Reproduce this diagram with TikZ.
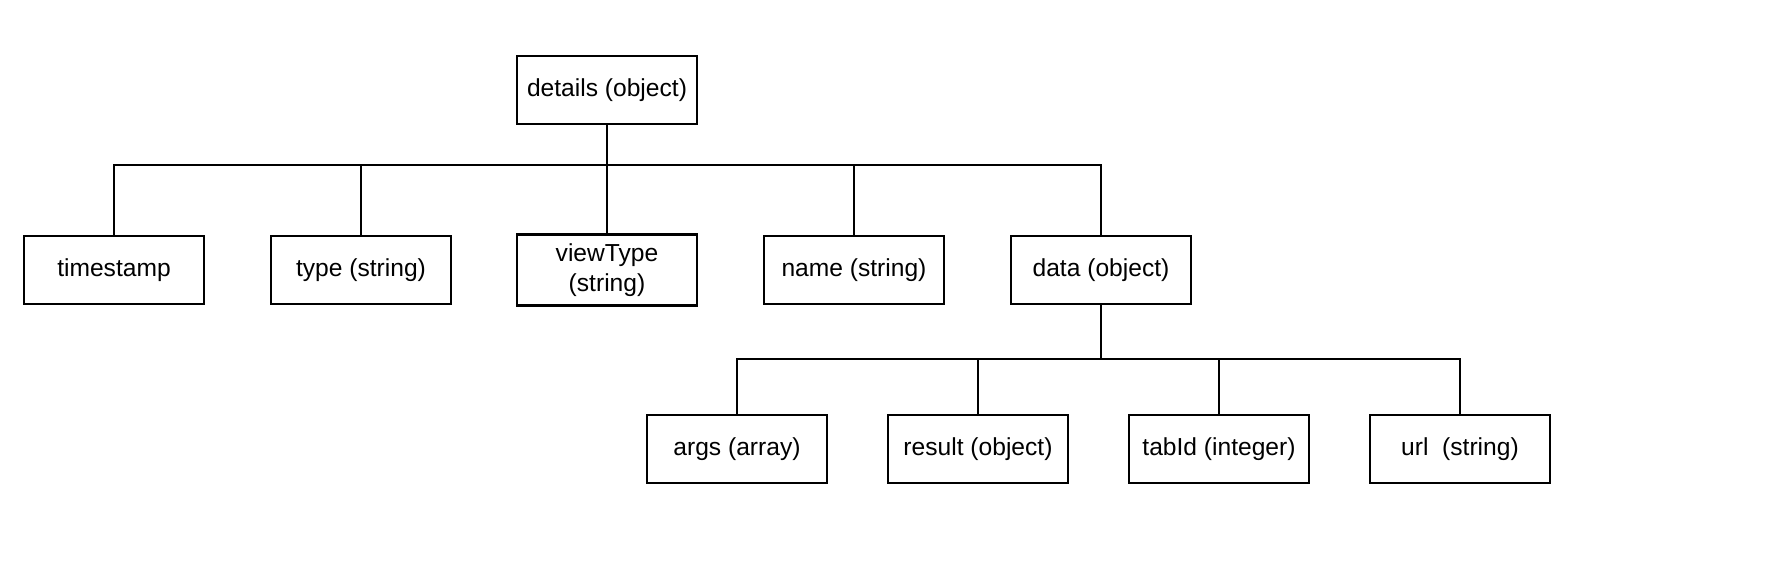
\documentclass[tikz,border=0pt]{standalone}
\usepackage{fontspec}
\setmainfont{Liberation Sans}
\usepackage{tikz}

\tikzset{
  field/.style={draw, line width=1.1pt, minimum width=90pt, minimum height=34pt,
    inner sep=1pt, align=center, font=\fontsize{12.3}{15}\selectfont},
  link/.style={line width=1pt},
  bus/.style={line width=0.8pt}
}

\begin{document}
\begin{tikzpicture}[x=0.5pt,y=-0.5pt]
%set diagram size to 1790 x 574
\useasboundingbox (0,0) rectangle (1790,574);

%Top level
\node [field] (details) at (607,90) {details (object)};

%Second level
\node [field] (timestamp) at (114,270) {timestamp};
\node [field] (type) at (361,270) {type (string)};
\node [field, minimum height=35.5pt] (viewType) at (607,270) {viewType\\(string)};
\node [field] (name) at (854,270) {name (string)};
\node [field] (data) at (1101,270) {data (object)};

%Third level
\node [field] (args) at (737,449) {args (array)};
\node [field] (result) at (978,449) {result (object)};
\node [field] (tabId) at (1219,449) {tabId (integer)};
\node [field] (url) at (1460,449) {url\ \ (string)};

%Connectors details
\coordinate (detailsbus) at (607,165);
\draw [link] (details.south) -- (viewType.north);
\draw [bus] (timestamp.north) |- (detailsbus) -| (data.north);
\draw [link] (timestamp.north) -- (timestamp.north |- detailsbus);
\draw [link] (data.north) -- (data.north |- detailsbus);
\draw [link] (type.north) -- (type.north |- detailsbus);
\draw [link] (name.north) -- (name.north |- detailsbus);

%Connectors data
\coordinate (databus) at (1101,359);
\draw [link] (data.south) -- (databus);
\draw [bus] (args.north) |- (databus) -| (url.north);
\draw [link] (args.north) -- (args.north |- databus);
\draw [link] (url.north) -- (url.north |- databus);
\draw [link] (result.north) -- (result.north |- databus);
\draw [link] (tabId.north) -- (tabId.north |- databus);

\end{tikzpicture}
\end{document}
